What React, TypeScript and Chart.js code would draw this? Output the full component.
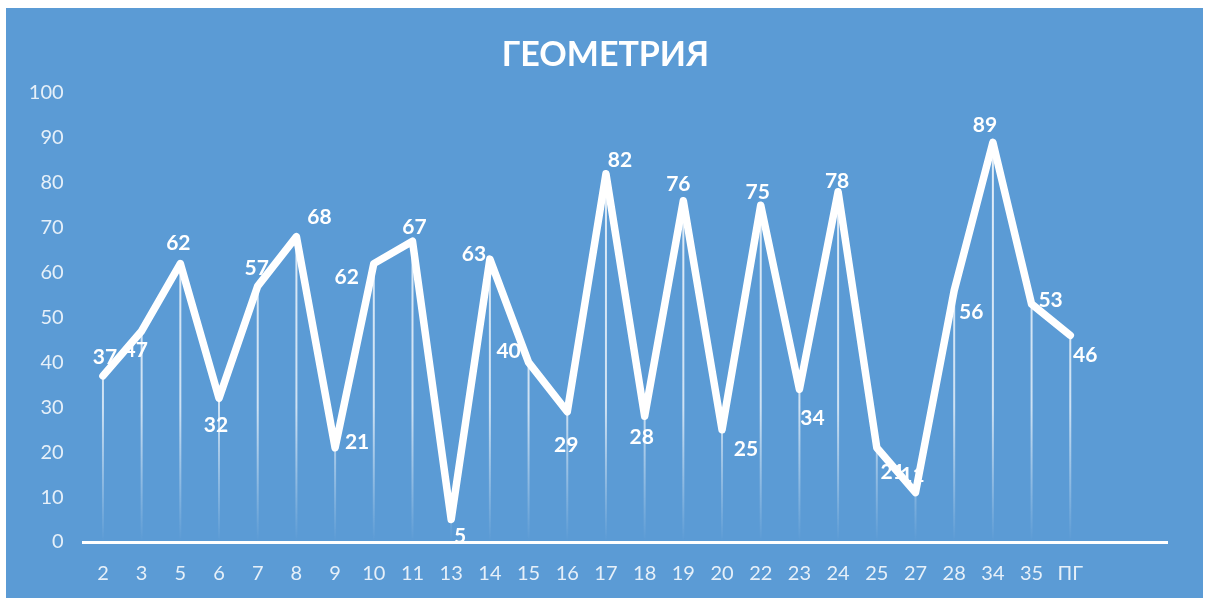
import React, { useEffect, useRef } from "react";
import { Chart, registerables } from "chart.js";

Chart.register(...registerables);

const chartTitle = "ГЕОМЕТРИЯ";
const categories = ["2", "3", "5", "6", "7", "8", "9", "10", "11", "13", "14", "15", "16", "17", "18", "19", "20", "22", "23", "24", "25", "27", "28", "34", "35", "ПГ", "", ""];
const scores: (number | null)[] = [37, 47, 62, 32, 57, 68, 21, 62, 67, 5, 63, 40, 29, 82, 28, 76, 25, 75, 34, 78, 21, 11, 56, 89, 53, 46, null, null];
const yTicks = [0, 10, 20, 30, 40, 50, 60, 70, 80, 90, 100];
// label offsets (dx, dy) relative to each point, mimicking the source placement
const labelOffsets: [number, number][] = [
  [2, -19], [-6, 19], [-2, -20], [-3, 27], [-1, -18], [23, -19], [22, -5], [-27, 14], [2, -14], [9, 17],
  [-16, -5], [-20, -11], [-1, 33], [14, -14], [-3, 21], [-5, -17], [24, 19], [-3, -13], [13, 29], [-1, -11],
  [16, 25], [-3, -17], [17, 22], [-8, -17], [19, -4], [15, 20],
];

const FONT = "Lato, 'Open Sans', 'DejaVu Sans', sans-serif";

const decorPlugin = {
  id: "decor",
  beforeDatasetsDraw(chart: any) {
    const { ctx, chartArea } = chart;
    const meta = chart.getDatasetMeta(0);
    const y0 = chart.scales.y.getPixelForValue(0);
    ctx.save();
    meta.data.forEach((pt: any, i: number) => {
      if (scores[i] == null) return;
      const g = ctx.createLinearGradient(0, chartArea.top, 0, y0);
      g.addColorStop(0, "rgba(255,255,255,0.85)");
      g.addColorStop(0.7, "rgba(255,255,255,0.7)");
      g.addColorStop(1, "rgba(255,255,255,0)");
      ctx.strokeStyle = g;
      ctx.lineWidth = 2;
      ctx.beginPath();
      ctx.moveTo(pt.x, pt.y);
      ctx.lineTo(pt.x, y0);
      ctx.stroke();
    });
    ctx.restore();
  },
  afterDatasetsDraw(chart: any) {
    const { ctx } = chart;
    const meta = chart.getDatasetMeta(0);
    ctx.save();
    ctx.fillStyle = "#ffffff";
    ctx.font = `bold 21px ${FONT}`;
    ctx.textAlign = "center";
    ctx.textBaseline = "middle";
    meta.data.forEach((pt: any, i: number) => {
      const v = scores[i];
      if (v == null) return;
      const off = labelOffsets[i] || [0, -16];
      ctx.fillText(String(v), pt.x + off[0], pt.y + off[1]);
    });
    ctx.font = `bold 34px ${FONT}`;
    ctx.fillText(chartTitle, chart.width / 2 + 1, 47);
    ctx.restore();
  },
};

export default function App() {
  const ref = useRef<HTMLCanvasElement | null>(null);
  useEffect(() => {
    if (!ref.current) return;
    const chart = new Chart(ref.current, {
      type: "line",
      data: {
        labels: categories,
        datasets: [
          {
            data: scores,
            borderColor: "#ffffff",
            borderWidth: 7.5,
            borderJoinStyle: "round",
            borderCapStyle: "round",
            pointRadius: 0,
            tension: 0,
            spanGaps: false,
          },
        ],
      },
      options: {
        animation: false,
        responsive: false,
        layout: { padding: { top: 85, right: 36, left: 0, bottom: 0 } },
        plugins: { legend: { display: false }, title: { display: false }, tooltip: { enabled: false } },
        scales: {
          x: {
            offset: true,
            grid: { display: false, drawTicks: false },
            border: { display: true, color: "#ffffff", width: 3 },
            ticks: {
              color: "rgba(255,255,255,0.85)",
              font: { family: FONT, size: 20 },
              padding: 20,
              maxRotation: 0,
              autoSkip: false,
            },
            afterFit(scale: any) {
              scale.height = 56;
            },
          },
          y: {
            min: 0,
            max: 100,
            afterBuildTicks(scale: any) {
              scale.ticks = yTicks.map((v) => ({ value: v }));
            },
            grid: { display: false, drawTicks: false },
            border: { display: false },
            ticks: {
              color: "rgba(255,255,255,0.85)",
              font: { family: FONT, size: 20 },
              padding: 20,
            },
            afterFit(scale: any) {
              scale.width = 77.6;
            },
          },
        },
      },
      plugins: [decorPlugin],
    });
    return () => chart.destroy();
  }, []);
  return (
    <div
      style={{
        position: "absolute",
        left: 6,
        top: 8,
        width: 1197,
        height: 590,
        background: "rgb(91,155,213)",
      }}
    >
      <canvas ref={ref} width={1197} height={590} style={{ display: "block" }} />
    </div>
  );
}
